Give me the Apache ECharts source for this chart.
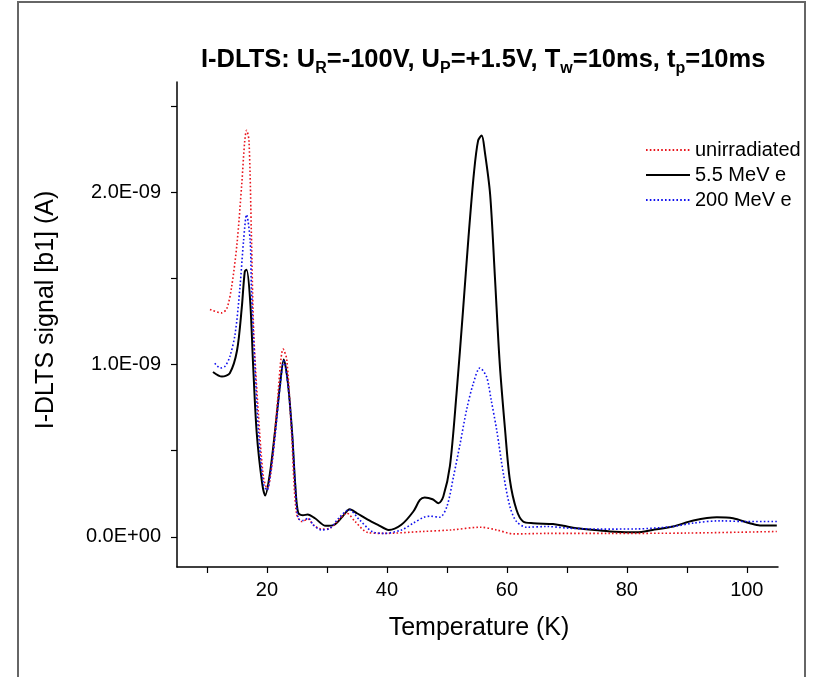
<!DOCTYPE html>
<html>
<head>
<meta charset="utf-8">
<script src="https://cdn.jsdelivr.net/npm/echarts@6/dist/echarts.min.js"></script>
<style>html,body{margin:0;padding:0;background:#fff}#c{width:816px;height:677px}</style>
</head>
<body>
<div id="c"></div>
<script>
// Temperature (K) and I-DLTS signal in units of 1E-09 A
const tUnirr = [10.5, 12.4, 13.3, 14.1, 15, 15.8, 16.3, 16.6, 17, 17.4, 17.8, 18.6, 19.4, 20.05, 20.8, 21.6, 22.7, 23.3, 24.1, 24.9, 25.8, 26.9, 27.7, 29.1, 30.5, 32, 33.3, 34.7, 36.8, 39.5, 45.8, 50.7, 55.6, 58.3, 61.2, 66.7, 77, 90, 105];
const vUnirr = [1.32, 1.30, 1.325, 1.45, 1.70, 2.05, 2.30, 2.36, 2.30, 1.76, 1.18, 0.70, 0.35, 0.28, 0.41, 0.72, 1.09, 1.03, 0.60, 0.137, 0.089, 0.103, 0.07, 0.045, 0.05, 0.1, 0.137, 0.089, 0.025, 0.02, 0.031, 0.04, 0.056, 0.04, 0.017, 0.02, 0.02, 0.022, 0.031];

const t55 = [11, 12.5, 13.8, 15, 15.8, 16.3, 16.6, 17.2, 17.7, 18.3, 19.2, 19.7, 20.5, 21.3, 22.2, 22.8, 23.5, 24.2, 24.7, 25.2, 26, 26.8, 28, 29.8, 31.2, 32.6, 33.8, 35, 36.8, 38.5, 40.3, 42.4, 44.4, 45.5, 46.3, 47.6, 48.6, 49.4, 50.5, 51.6, 52.7, 53.6, 54.5, 55.2, 55.8, 56.3, 57.2, 58, 58.8, 59.7, 60.5, 61.6, 62.7, 64.4, 67.7, 69.4, 71.6, 75.5, 78, 81.6, 84.3, 87.7, 91.1, 95, 97.7, 100.5, 102.2, 105];
const v55 = [0.957, 0.93, 0.95, 1.08, 1.33, 1.54, 1.55, 1.37, 0.99, 0.60, 0.31, 0.24, 0.37, 0.60, 0.89, 1.03, 0.89, 0.60, 0.31, 0.14, 0.125, 0.13, 0.108, 0.064, 0.07, 0.118, 0.16, 0.137, 0.10, 0.07, 0.04, 0.07, 0.147, 0.214, 0.228, 0.218, 0.195, 0.234, 0.41, 0.83, 1.32, 1.74, 2.11, 2.30, 2.33, 2.24, 1.99, 1.51, 1.01, 0.62, 0.33, 0.157, 0.089, 0.079, 0.074, 0.064, 0.05, 0.037, 0.03, 0.027, 0.04, 0.06, 0.095, 0.114, 0.108, 0.079, 0.066, 0.066];

const t200 = [11.3, 12.2, 13, 13.8, 14.7, 15.5, 16.1, 16.6, 17.2, 17.4, 18, 18.6, 19.4, 20, 20.6, 21.4, 22.2, 22.8, 23.5, 24.2, 24.7, 25.2, 26, 26.9, 27.7, 29.1, 30.5, 32, 33.7, 35.4, 37.5, 39.5, 42.4, 44.4, 46.2, 47.2, 48.8, 50, 51.1, 52.2, 53.3, 54.4, 55.5, 56.6, 57.4, 58.3, 59.4, 60.5, 61.6, 63.3, 66.6, 70.5, 75.5, 81.6, 87.7, 91.1, 95.5, 99.9, 105];
const v200 = [1.007, 0.98, 0.99, 1.045, 1.18, 1.45, 1.72, 1.87, 1.72, 1.45, 0.99, 0.60, 0.31, 0.27, 0.37, 0.60, 0.88, 1.02, 0.88, 0.60, 0.31, 0.108, 0.095, 0.108, 0.07, 0.04, 0.05, 0.11, 0.157, 0.1, 0.031, 0.02, 0.04, 0.08, 0.114, 0.12, 0.114, 0.176, 0.35, 0.54, 0.74, 0.89, 0.98, 0.93, 0.79, 0.62, 0.37, 0.176, 0.089, 0.056, 0.06, 0.05, 0.045, 0.046, 0.06, 0.08, 0.093, 0.089, 0.089];

const seriesNames = ['unirradiated', '5.5 MeV e', '200 MeV e'];
const xTicks = [10, 20, 30, 40, 50, 60, 70, 80, 90, 100];
const xLabels = [20, 40, 60, 80, 100];
const yTicks = [0, 0.5, 1, 1.5, 2, 2.5];
const yLabels = [0, 1, 2];

const zip = (a, b) => a.map((x, i) => [x, b[i]]);
const FONT = '"Liberation Sans", Arial, sans-serif';

const chart = echarts.init(document.getElementById('c'), null, {renderer: 'canvas'});
chart.setOption({
  animation: false,
  backgroundColor: '#fff',
  title: {
    text: '{n|I-DLTS: U}{s|R}{n|=-100V, U}{s|P}{n|=+1.5V, T}{s|w}{n|=10ms, t}{s|p}{n|=10ms}',
    left: 196, top: 38,
    textStyle: {
      rich: {
        n: {fontFamily: FONT, fontSize: 25.5, fontWeight: 'bold', color: '#000', lineHeight: 34, verticalAlign: 'middle'},
        s: {fontFamily: FONT, fontSize: 16, fontWeight: 'bold', color: '#000', lineHeight: 16, verticalAlign: 'bottom'}
      }
    }
  },
  legend: {
    orient: 'vertical', left: 640, top: 135,
    itemWidth: 44, itemHeight: 10, itemGap: 5,
    data: seriesNames,
    itemStyle: {opacity: 0},
    textStyle: {fontFamily: FONT, fontSize: 20, color: '#000', lineHeight: 20}
  },
  grid: {left: 177, right: 38, top: 82, bottom: 110, containLabel: false},
  xAxis: {
    type: 'value', min: 5, max: 105.2,
    axisLine: {onZero: false, lineStyle: {color: '#000', width: 1.5}},
    axisTick: {show: true, length: 6, customValues: xTicks, lineStyle: {color: '#000', width: 1.2}},
    axisLabel: {customValues: xLabels, margin: 13, fontFamily: FONT, fontSize: 20, color: '#000'},
    splitLine: {show: false}
  },
  yAxis: {
    type: 'value', min: -0.175, max: 2.64,
    axisLine: {show: true, onZero: false, lineStyle: {color: '#000', width: 1.5}},
    axisTick: {show: true, length: 6, customValues: yTicks, lineStyle: {color: '#000', width: 1.2}},
    axisLabel: {customValues: yLabels, margin: 16, fontFamily: FONT, fontSize: 20, color: '#000',
      formatter: v => v === 0 ? '0.0E+00' : v.toFixed(1) + 'E-09'},
    splitLine: {show: false}
  },
  graphic: [
    {type: 'rect', silent: true, shape: {x: 18, y: 2, width: 787, height: 720},
      style: {fill: 'none', stroke: '#666', lineWidth: 2}},
    {type: 'text', x: 46, y: 310, rotation: Math.PI / 2,
      style: {text: 'I-DLTS signal [b1] (A)', fontFamily: FONT, fontSize: 25, fill: '#000', textAlign: 'center', textVerticalAlign: 'middle'}},
    {type: 'text', x: 479, y: 628,
      style: {text: 'Temperature (K)', fontFamily: FONT, fontSize: 25, fill: '#000', textAlign: 'center', textVerticalAlign: 'middle'}}
  ],
  series: [
    {name: seriesNames[0], type: 'line', data: zip(tUnirr, vUnirr), symbol: 'none', smooth: 0.3,
      lineStyle: {color: '#e8141c', width: 1.6, type: [1.6, 2.2]}, itemStyle: {color: '#e8141c'}, z: 3},
    {name: seriesNames[1], type: 'line', data: zip(t55, v55), symbol: 'none', smooth: 0.3,
      lineStyle: {color: '#000', width: 2}, itemStyle: {color: '#000'}, z: 2},
    {name: seriesNames[2], type: 'line', data: zip(t200, v200), symbol: 'none', smooth: 0.3,
      lineStyle: {color: '#1010ee', width: 1.6, type: [1.6, 2.2]}, itemStyle: {color: '#1010ee'}, z: 4}
  ]
});
</script>
</body>
</html>
